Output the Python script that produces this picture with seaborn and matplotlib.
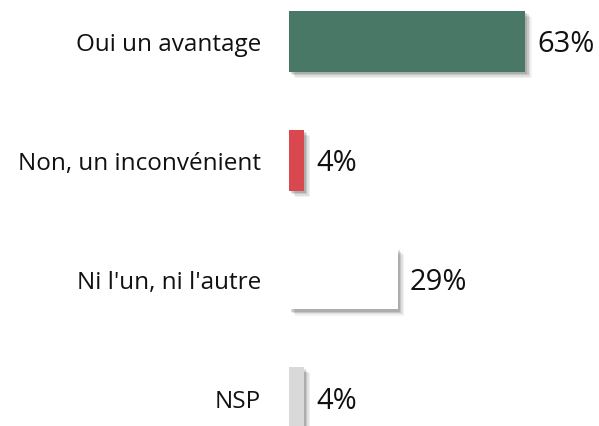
import matplotlib
matplotlib.use("Agg")
import matplotlib.pyplot as plt
import matplotlib.patheffects as pe
import seaborn as sns
import pandas as pd

categories = ["Oui un avantage", "Non, un inconvénient", "Ni l'un, ni l'autre", "NSP"]
values = [63, 4, 29, 4]
colors = ["#4A7866", "#D9484F", "#FFFFFF", "#D9D9D9"]
value_labels = ["63%", "4%", "29%", "4%"]

df = pd.DataFrame({"categorie": categories, "pct": values})

sns.set_theme(style="white")
plt.rcParams["font.family"] = ["Open Sans", "DejaVu Sans"]

fig = plt.figure(figsize=(5.99, 4.27), dpi=100)
ax = fig.add_axes([289 / 599, 0, 310 / 599, 1])

sns.barplot(data=df, y="categorie", x="pct", hue="categorie", palette=colors,
            order=categories, orient="h", width=0.514, legend=False,
            saturation=1, ax=ax)

# soft drop shadow under each bar
shadow = [
    pe.SimplePatchShadow(offset=(4.5, -4.5), shadow_rgbFace="#000000", alpha=0.05),
    pe.SimplePatchShadow(offset=(3.5, -3.5), shadow_rgbFace="#000000", alpha=0.08),
    pe.SimplePatchShadow(offset=(2.5, -2.5), shadow_rgbFace="#000000", alpha=0.11),
    pe.SimplePatchShadow(offset=(1.5, -1.5), shadow_rgbFace="#000000", alpha=0.12),
    pe.Normal(),
]
for patch in ax.patches:
    patch.set_edgecolor("none")
    patch.set_path_effects(shadow)

ax.set_xlim(0, 310 / 3.75)
ax.set_ylim(3.239, -0.358)

for i, (v, lab) in enumerate(zip(values, value_labels)):
    ax.text(v + 3.2, i + 0.02, lab, va="center", ha="left", fontsize=21, color="#111111")

ax.set_yticks(range(len(categories)))
ax.set_yticklabels(categories, fontsize=17.5, color="#111111")
ax.tick_params(axis="y", length=0, pad=20)
ax.set_xticks([])
ax.set_xlabel("")
ax.set_ylabel("")
for s in ax.spines.values():
    s.set_visible(False)

fig.savefig("out.png", dpi=100)
